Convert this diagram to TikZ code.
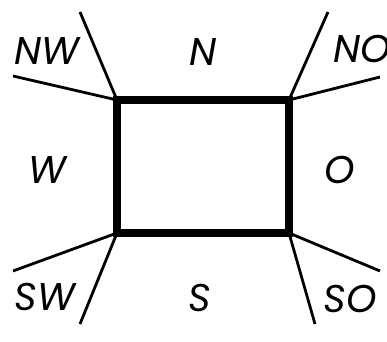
\documentclass[tikz,border=0pt]{standalone}
\usepackage{fontspec}
\setmainfont{Poppins}
\usetikzlibrary{positioning}
\tikzset{
  frame/.style={line width=0.08cm, draw=black, line join=miter},
  ray/.style={line width=0.028cm, draw=black},
  dir/.style={font=\fontsize{11}{13}\selectfont\itshape\mdseries, inner sep=0pt}
}
\begin{document}
\begin{tikzpicture}[x=0.01cm, y=-0.01cm]
    \useasboundingbox (0,0) rectangle (387,342);
    % corners of the box
    \coordinate (nw) at (117,100);
    \coordinate (ne) at (289,100);
    \coordinate (sw) at (117,233);
    \coordinate (se) at (289,233);

    % free ends of the rays
    \coordinate (nwA) at (80,12);
    \coordinate (nwB) at (13,76);
    \coordinate (neA) at (328,12);
    \coordinate (neB) at (380,77);
    \coordinate (swA) at (13,271);
    \coordinate (swB) at (80,324);
    \coordinate (seA) at (380,271);
    \coordinate (seB) at (315,324);

    \draw[ray] (nw) -- (nwA);
    \draw[ray] (nw) -- (nwB);
    \draw[ray] (ne) -- (neA);
    \draw[ray] (ne) -- (neB);
    \draw[ray] (sw) -- (swA);
    \draw[ray] (sw) -- (swB);
    \draw[ray] (se) -- (seA);
    \draw[ray] (se) -- (seB);

    \draw[frame] (nw) -- (ne) -- (se) -- (sw) -- cycle;

    \node[dir] (lNW) at (47,51)  {NW};
    \node[dir] (lN)  at (203,52) {N};
    \node[dir] (lNO) at (362,49) {NO};
    \node[dir] (lW)  at (47,170) {W};
    \node[dir] (lO)  at (340,170) {O};
    \node[dir] (lSW) at (45,297) {SW};
    \node[dir] (lS)  at (200,298) {S};
    \node[dir] (lSO) at (350,299) {SO};
\end{tikzpicture}
\end{document}
